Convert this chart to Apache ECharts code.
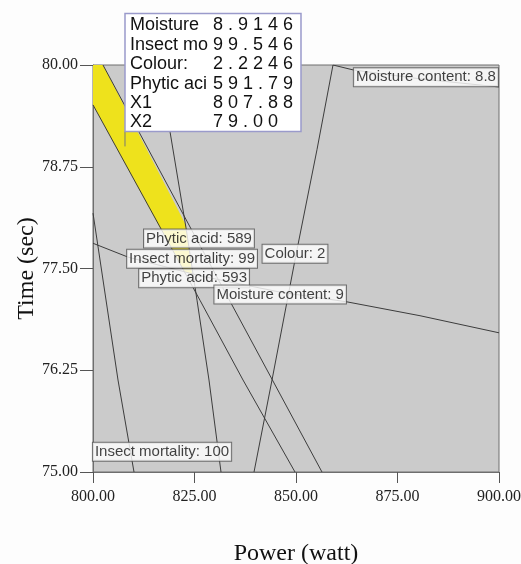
<!DOCTYPE html>
<html>
<head>
<meta charset="utf-8">
<script src="https://cdn.jsdelivr.net/npm/echarts@6/dist/echarts.min.js"></script>
<style>
  html, body { margin: 0; padding: 0; background: #fdfdfd; }
  #chart { width: 521px; height: 564px; }
</style>
</head>
<body>
<div id="chart"></div>
<script>
// Overlay contour plot: Power (watt) vs Time (sec)

// Contour lines, each as [power, time] points
const insectMortality100 = [[800, 78.18], [806.16, 76.13], [810.1, 75.0]];
const insectMortality99 = [[816.26, 80], [818.97, 79.18], [822.91, 78.0], [825.62, 77.11], [828.57, 76.13], [831.53, 75.0]];
const colour2 = [[859.11, 80], [855.17, 78.96], [850.0, 77.67], [844.09, 76.13], [839.66, 75.0]];
const phyticAcid589 = [[802.46, 80], [829.4, 77.5], [856.4, 75.0]];
const phyticAcid593 = [[800, 79.51], [816.5, 78.01], [826.35, 77.11], [836.95, 76.13], [849.75, 75.0]];
const moisture9 = [[800, 77.81], [808.62, 77.64], [826.35, 77.41], [846.06, 77.21], [862.56, 77.09], [880.54, 76.92], [900, 76.71]];
const moisture88 = [[859.11, 80], [864.04, 79.94], [880.54, 79.83], [900, 79.73]];

// Feasible (overlap) region
const sweetSpot = [[800, 80], [802.46, 80], [822.91, 78.03], [824.38, 77.43], [822.41, 77.46], [800, 79.51]];

// Contour labels: [power, time, text]
const contourLabels = [
  [882.0, 79.85, 'Moisture content: 8.8'],
  [826.1, 77.87, 'Phytic acid: 589'],
  [824.4, 77.62, 'Insect mortality: 99'],
  [849.75, 77.68, 'Colour: 2'],
  [824.9, 77.38, 'Phytic acid: 593'],
  [846.1, 77.18, 'Moisture content: 9'],
  [817.0, 75.25, 'Insect mortality: 100']
];

// Flag point and its readout
const flagPoint = [807.88, 79.00];
const flagNames = ['Moisture', 'Insect mo', 'Colour:', 'Phytic aci', 'X1', 'X2'];
const flagValues = ['8.9146', '99.546', '2.2246', '591.79', '807.88', '79.00'];

const LINE_COLOR = '#3c3c3c';
const SERIF = '"Liberation Serif", "Times New Roman", serif';
const SANS = '"Liberation Sans", Arial, sans-serif';
const FLAG_FONT = '18px ' + SANS;

// measure glyph widths for the letter-spaced readout values
const measureCtx = document.createElement('canvas').getContext('2d');
measureCtx.font = FLAG_FONT;

function spacedText(str, x0, spacing, cy) {
  const out = [];
  let x = x0;
  Array.from(str).forEach(c => {
    out.push({ type: 'text', style: { text: c, x: x, y: cy, verticalAlign: 'middle',
      align: 'left', font: FLAG_FONT, fill: '#111' } });
    x += measureCtx.measureText(c).width + spacing;
  });
  return out;
}

function contourSeries(name, data) {
  return {
    name: name,
    type: 'line',
    data: data,
    symbol: 'none',
    silent: true,
    z: 3,
    lineStyle: { color: LINE_COLOR, width: 1 },
    animation: false
  };
}

const chart = echarts.init(document.getElementById('chart'));
chart.setOption({
  animation: false,
  backgroundColor: '#fdfdfd',
  grid: {
    left: 93, right: 22, top: 65, bottom: 92,
    outerBoundsMode: 'none',
    containLabel: false,
    show: true,
    backgroundColor: '#cbcbcb',
    borderColor: '#6e6e6e',
    borderWidth: 1
  },
  xAxis: {
    type: 'value',
    min: 800, max: 900, interval: 25,
    name: 'Power (watt)',
    nameLocation: 'middle',
    nameGap: 70,
    nameMoveOverlap: false,
    nameTextStyle: { fontFamily: SERIF, fontSize: 24, color: '#111' },
    axisLine: { lineStyle: { color: '#6e6e6e' } },
    axisTick: { inside: false, length: 11, lineStyle: { color: '#555' } },
    axisLabel: {
      formatter: v => v.toFixed(2),
      fontFamily: SERIF, fontSize: 16, color: '#222', margin: 17
    },
    splitLine: { show: false }
  },
  yAxis: {
    type: 'value',
    min: 75, max: 80, interval: 1.25,
    name: 'Time (sec)',
    nameLocation: 'middle',
    nameGap: 54,
    nameMoveOverlap: false,
    nameRotate: 90,
    nameTextStyle: { fontFamily: SERIF, fontSize: 24, color: '#111' },
    axisLine: { lineStyle: { color: '#6e6e6e' } },
    axisTick: { inside: false, length: 13, lineStyle: { color: '#555' } },
    axisLabel: {
      formatter: v => v.toFixed(2),
      fontFamily: SERIF, fontSize: 16, color: '#222', margin: 15
    },
    splitLine: { show: false }
  },
  series: [
    {
      name: 'region',
      type: 'custom',
      silent: true,
      z: 2,
      data: [0],
      renderItem: function (params, api) {
        const pts = sweetSpot.map(p => api.coord(p));
        return {
          type: 'polygon',
          shape: { points: pts },
          style: { fill: '#eee21c', stroke: null }
        };
      }
    },
    contourSeries('Insect mortality 100', insectMortality100),
    contourSeries('Insect mortality 99', insectMortality99),
    contourSeries('Colour 2', colour2),
    contourSeries('Phytic acid 589', phyticAcid589),
    contourSeries('Phytic acid 593', phyticAcid593),
    contourSeries('Moisture content 9', moisture9),
    contourSeries('Moisture content 8.8', moisture88),
    {
      name: 'labels',
      type: 'scatter',
      silent: true,
      z: 5,
      symbolSize: 0,
      data: contourLabels,
      label: {
        show: true,
        position: 'inside',
        formatter: p => p.value[2],
        fontFamily: SANS,
        fontSize: 15,
        color: '#111',
        backgroundColor: '#ffffff',
        borderColor: '#555',
        borderWidth: 1,
        padding: [2, 2, 1, 2],
        lineHeight: 15
      }
    },
    {
      name: 'flag',
      type: 'custom',
      silent: true,
      z: 6,
      data: [flagPoint],
      renderItem: function (params, api) {
        const pt = api.coord([api.value(0), api.value(1)]);
        const left = pt[0];
        const top = pt[1] - 133;
        const width = 176, height = 118, rowH = 19.4;
        let children = [
          { type: 'line', shape: { x1: left, y1: top + height, x2: left, y2: pt[1] },
            style: { stroke: '#777', lineWidth: 1 } },
          { type: 'rect', shape: { x: left, y: top, width: width, height: height },
            style: { fill: '#ffffff', stroke: '#9a9acb', lineWidth: 1.5 } }
        ];
        flagNames.forEach((n, i) => {
          const cy = top + 12 + i * rowH;
          children.push({ type: 'text', style: { text: n, x: left + 5, y: cy,
            verticalAlign: 'middle', align: 'left', font: FLAG_FONT, fill: '#111' } });
          children = children.concat(spacedText(flagValues[i], left + 88, 5, cy));
        });
        return { type: 'group', children: children };
      }
    }
  ]
});
</script>
</body>
</html>
